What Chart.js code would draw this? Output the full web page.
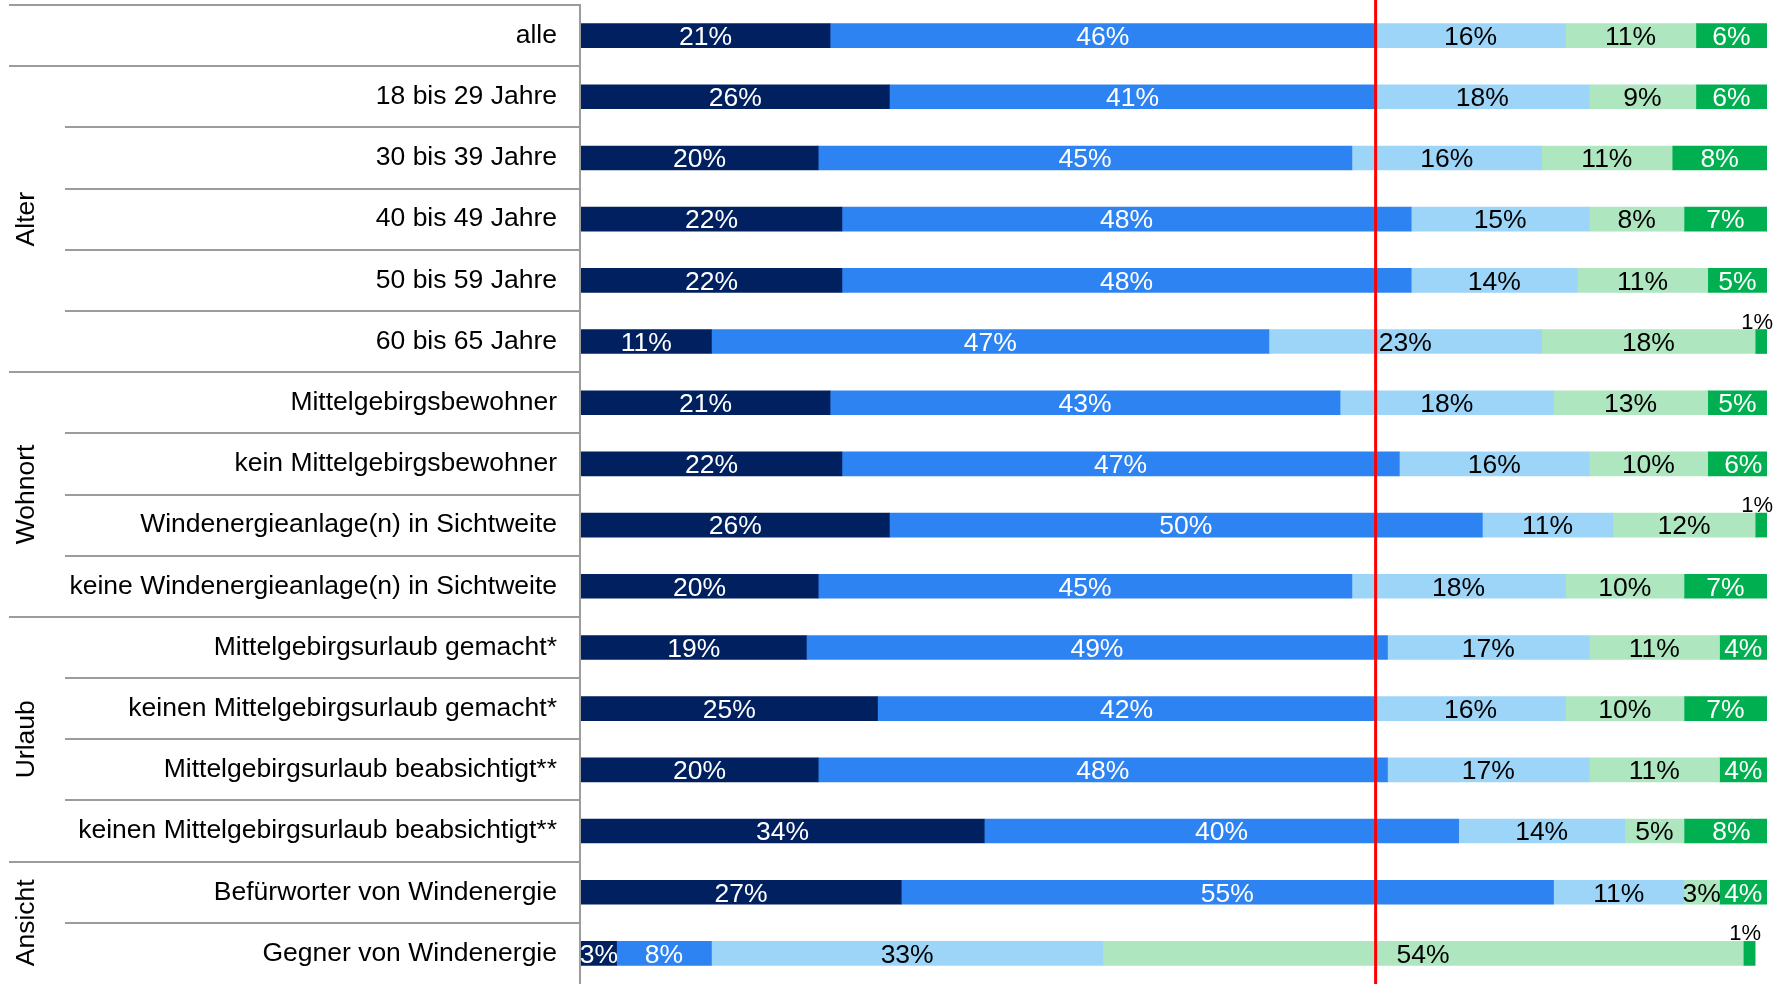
<!DOCTYPE html>
<html lang="de">
<head>
<meta charset="utf-8">
<title>Antworten nach Gruppen</title>
<script src="https://cdn.jsdelivr.net/npm/chart.js@4/dist/chart.umd.min.js"></script>
<style>
  html, body { margin: 0; padding: 0; background: #fff; }
  canvas { display: block; }
</style>
</head>
<body>
<canvas id="groupsChart" width="1785" height="984"></canvas>
<script>
// rows of the table, top to bottom
const categories = [
    'alle',
    '18 bis 29 Jahre',
    '30 bis 39 Jahre',
    '40 bis 49 Jahre',
    '50 bis 59 Jahre',
    '60 bis 65 Jahre',
    'Mittelgebirgsbewohner',
    'kein Mittelgebirgsbewohner',
    'Windenergieanlage(n) in Sichtweite',
    'keine Windenergieanlage(n) in Sichtweite',
    'Mittelgebirgsurlaub gemacht*',
    'keinen Mittelgebirgsurlaub gemacht*',
    'Mittelgebirgsurlaub beabsichtigt**',
    'keinen Mittelgebirgsurlaub beabsichtigt**',
    'Befürworter von Windenergie',
    'Gegner von Windenergie'
];

// answer shares in percent, one array per answer level
const level1 = [21, 26, 20, 22, 22, 11, 21, 22, 26, 20, 19, 25, 20, 34, 27, 3];
const level2 = [46, 41, 45, 48, 48, 47, 43, 47, 50, 45, 49, 42, 48, 40, 55, 8];
const level3 = [16, 18, 16, 15, 14, 23, 18, 16, 11, 18, 17, 16, 17, 14, 11, 33];
const level4 = [11, 9, 11, 8, 11, 18, 13, 10, 12, 10, 11, 10, 11, 5, 3, 54];
const level5 = [6, 6, 8, 7, 5, 1, 5, 6, 1, 7, 4, 7, 4, 8, 4, 1];

// row groups drawn at the left edge
const groupNames = ['', 'Alter', 'Wohnort', 'Urlaub', 'Ansicht'];
const groupSizes = [1, 5, 4, 4, 2];

// level1 + level2 for "alle"
const markerValue = 67;

const fontFamily = '"Liberation Sans", Arial, sans-serif';
const fontSize = 26.5;
const barColors = ['#002060', '#2e83f2', '#9dd5f8', '#aee6c0', '#00b050'];
const labelColors = ['#ffffff', '#ffffff', '#000000', '#000000', '#ffffff'];

const tablePlugin = {
    id: 'table',
    beforeDatasetsDraw(chart) {
        const {ctx, chartArea} = chart;
        const y = chart.scales.y;
        const half = (y.getPixelForValue(1) - y.getPixelForValue(0)) / 2;

        ctx.save();
        ctx.strokeStyle = '#9c9c9c';
        ctx.lineWidth = 2;
        ctx.fillStyle = '#000';
        ctx.font = fontSize + 'px ' + fontFamily;
        ctx.textAlign = 'center';
        ctx.textBaseline = 'middle';

        let row = 0;
        groupSizes.forEach((size, g) => {
            const groupTop = y.getPixelForValue(row) - half;
            for (let i = 0; i < size; i++) {
                const top = Math.round(y.getPixelForValue(row) - half);
                ctx.beginPath();
                ctx.moveTo(i === 0 ? 9 : 65, top);
                ctx.lineTo(chartArea.left, top);
                ctx.stroke();
                row++;
            }
            const groupBottom = y.getPixelForValue(row - 1) + half;
            if (groupNames[g]) {
                ctx.save();
                ctx.translate(27, (groupTop + groupBottom) / 2);
                ctx.rotate(-Math.PI / 2);
                ctx.fillText(groupNames[g], 0, 0);
                ctx.restore();
            }
        });

        // axis line between row labels and bars
        ctx.beginPath();
        ctx.moveTo(chartArea.left - 1, chartArea.top - 1);
        ctx.lineTo(chartArea.left - 1, chart.height);
        ctx.stroke();
        ctx.restore();
    },
    afterDatasetsDraw(chart) {
        const {ctx} = chart;
        const x = chart.scales.x;

        // reference line
        const mx = x.getPixelForValue(markerValue);
        ctx.save();
        ctx.strokeStyle = '#ff0000';
        ctx.lineWidth = 3;
        ctx.beginPath();
        ctx.moveTo(mx, 0);
        ctx.lineTo(mx, chart.height);
        ctx.stroke();

        // value labels
        ctx.textAlign = 'center';
        chart.data.datasets.forEach((ds, d) => {
            const meta = chart.getDatasetMeta(d);
            meta.data.forEach((bar, i) => {
                const v = ds.data[i];
                const cx = (bar.x + bar.base) / 2;
                if (v <= 1) {
                    ctx.font = '22px ' + fontFamily;
                    ctx.fillStyle = '#000';
                    ctx.textBaseline = 'alphabetic';
                    ctx.fillText(v + '%', cx - 4, bar.y - bar.height / 2 - 1);
                } else {
                    ctx.font = fontSize + 'px ' + fontFamily;
                    ctx.fillStyle = labelColors[d];
                    ctx.textBaseline = 'middle';
                    ctx.fillText(v + '%', cx, bar.y + 2);
                }
            });
        });
        ctx.restore();
    }
};

const ctx = document.getElementById('groupsChart').getContext('2d');

new Chart(ctx, {
    type: 'bar',
    data: {
        labels: categories,
        datasets: [level1, level2, level3, level4, level5].map((values, i) => ({
            label: 'Stufe ' + (i + 1),
            data: values,
            backgroundColor: barColors[i],
            borderWidth: 0,
            barThickness: 24
        }))
    },
    options: {
        indexAxis: 'y',
        responsive: false,
        animation: false,
        devicePixelRatio: 1,
        layout: {
            padding: {top: 5, right: 18, bottom: 0, left: 0}
        },
        scales: {
            x: {
                stacked: true,
                min: 0,
                max: 100,
                display: false
            },
            y: {
                stacked: true,
                grid: {display: false, drawTicks: false},
                border: {display: false},
                afterFit(scale) {
                    // fixed label column, rows fill the full height
                    scale.width = 581;
                    scale.paddingTop = 0;
                    scale.paddingBottom = 0;
                },
                ticks: {
                    padding: 24,
                    color: '#000',
                    font: {family: fontFamily, size: fontSize}
                }
            }
        },
        plugins: {
            legend: {display: false},
            tooltip: {enabled: false}
        }
    },
    plugins: [tablePlugin]
});
</script>
</body>
</html>
